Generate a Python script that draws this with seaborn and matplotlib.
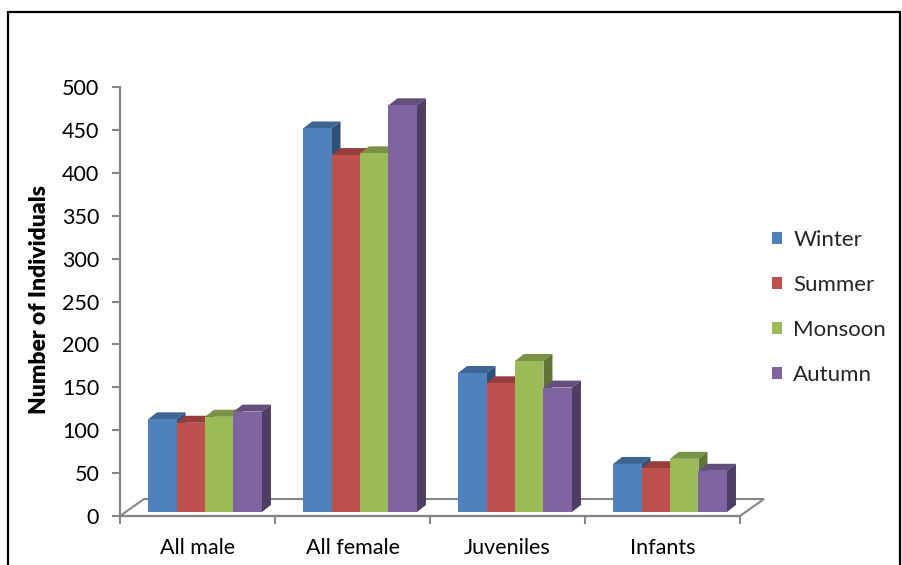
import matplotlib
matplotlib.use("Agg")
import matplotlib.pyplot as plt
import seaborn as sns
import pandas as pd
import numpy as np
from matplotlib.patches import Polygon, Rectangle
from matplotlib.lines import Line2D
from matplotlib.transforms import ScaledTranslation
import matplotlib.colors as mcolors

categories = ["All male", "All female", "Juveniles", "Infants"]
seasons = ["Winter", "Summer", "Monsoon", "Autumn"]
winter = [108, 447, 162, 56]
summer = [104, 416, 150, 51]
monsoon = [111, 418, 176, 62]
autumn = [117, 474, 145, 48]
colors = ["#4F81BD", "#C0504D", "#9BBB59", "#8064A2"]
yticks = list(range(0, 501, 50))

rows = []
for s, vals in zip(seasons, [winter, summer, monsoon, autumn]):
    for c, v in zip(categories, vals):
        rows.append({"Category": c, "Season": s, "Count": v})
df = pd.DataFrame(rows)

sns.set_theme(style="white")
plt.rcParams['font.family'] = ['Lato', 'DejaVu Sans']

W, H = 902, 565
GRAY = "#868686"
FS = 15.5
fig = plt.figure(figsize=(W / 100, H / 100), dpi=100)
ax = fig.add_axes([120 / W, 1 - 516 / H, 620 / W, 429 / H])
sns.barplot(data=df, x="Category", y="Count", hue="Season", order=categories,
            hue_order=seasons, palette=colors, width=0.735, saturation=1,
            linewidth=0, edgecolor="none", ax=ax, zorder=3, errorbar=None)
ax.set_xlim(-0.5, 3.5)
ax.set_ylim(0, 500)

bars = [p for p in ax.patches if isinstance(p, Rectangle) and p.get_height() > 0]
bars.sort(key=lambda p: p.get_x())

inv = ax.transData.inverted()


def pix(x, y_img):
    return inv.transform((x, H - y_img))


# floor
floor_pts = [pix(120, 516), pix(740, 516), pix(764, 499), pix(144, 499)]
ax.add_patch(Polygon(floor_pts, closed=True, facecolor="white", edgecolor=GRAY,
                     lw=1.5, zorder=1, clip_on=False))

# 3D bars
sx, sy = 7.5, 4.0      # shift of bar fronts (pixels)
dx, dy = 9.0, 7.0      # depth of bars (pixels)
shift = ScaledTranslation(sx / 100, sy / 100, fig.dpi_scale_trans)
for p in bars:
    col = np.array(mcolors.to_rgb(p.get_facecolor()))
    x0, w, h = p.get_x(), p.get_width(), p.get_height()
    (l, b) = ax.transData.transform((x0, 0))
    (r, t) = ax.transData.transform((x0 + w, h))
    l, r, b, t = l + sx, r + sx, b + sy, t + sy
    top = [(l, t), (r, t), (r + dx, t + dy), (l + dx, t + dy)]
    side = [(r, t), (r, b), (r + dx, b + dy), (r + dx, t + dy)]
    ax.add_patch(Polygon(inv.transform(top), closed=True, facecolor=col * 0.78,
                         edgecolor="none", zorder=2, clip_on=False))
    ax.add_patch(Polygon(inv.transform(side), closed=True, facecolor=col * 0.62,
                         edgecolor="none", zorder=2, clip_on=False))
    p.set_transform(ax.transData + shift)
    p.set_clip_on(False)

# axes styling
for s in ["top", "right"]:
    ax.spines[s].set_visible(False)
for s in ["left", "bottom"]:
    ax.spines[s].set_color(GRAY)
    ax.spines[s].set_linewidth(1.6)
    ax.spines[s].set_zorder(1.5)

ax.set_yticks(yticks)
ax.set_yticklabels([str(v) for v in yticks])
ax.tick_params(axis="y", which="major", left=True, direction="out", length=6,
               width=1.5, color=GRAY, pad=9, labelsize=FS, labelcolor="black")
ax.set_xticks(range(len(categories)))
ax.set_xticklabels(categories)
ax.set_xticks(np.arange(-0.5, 4.0, 1.0), minor=True)
ax.tick_params(axis="x", which="major", bottom=True, length=0, pad=16,
               labelsize=FS, labelcolor="black")
ax.tick_params(axis="x", which="minor", bottom=True, direction="out", length=6,
               width=1.5, color=GRAY)
ax.set_xlabel("")
ax.set_ylabel("")
fig.text(40 / W, 1 - 300 / H, "Number of Individuals", rotation=90, ha="center",
         va="center", fontsize=16.5, fontweight="heavy", color="black")

handles, labels = ax.get_legend_handles_labels()
if ax.get_legend() is not None:
    ax.get_legend().remove()
fig.legend(handles, labels, loc="center left", bbox_to_anchor=(772 / W, 1 - 307.5 / H),
           bbox_transform=fig.transFigure, frameon=False, fontsize=16,
           handlelength=0.46, handleheight=0.46, handletextpad=0.5,
           labelspacing=1.13, borderpad=0, borderaxespad=0)

# outer border
for xs, ys in [([8, 900], [12, 12]), ([8, 8], [12, 565]), ([900, 900], [12, 565])]:
    fig.add_artist(Line2D([x / W for x in xs], [1 - y / H for y in ys],
                          transform=fig.transFigure, color="black", lw=1.6))

fig.savefig("out.png", dpi=100)
